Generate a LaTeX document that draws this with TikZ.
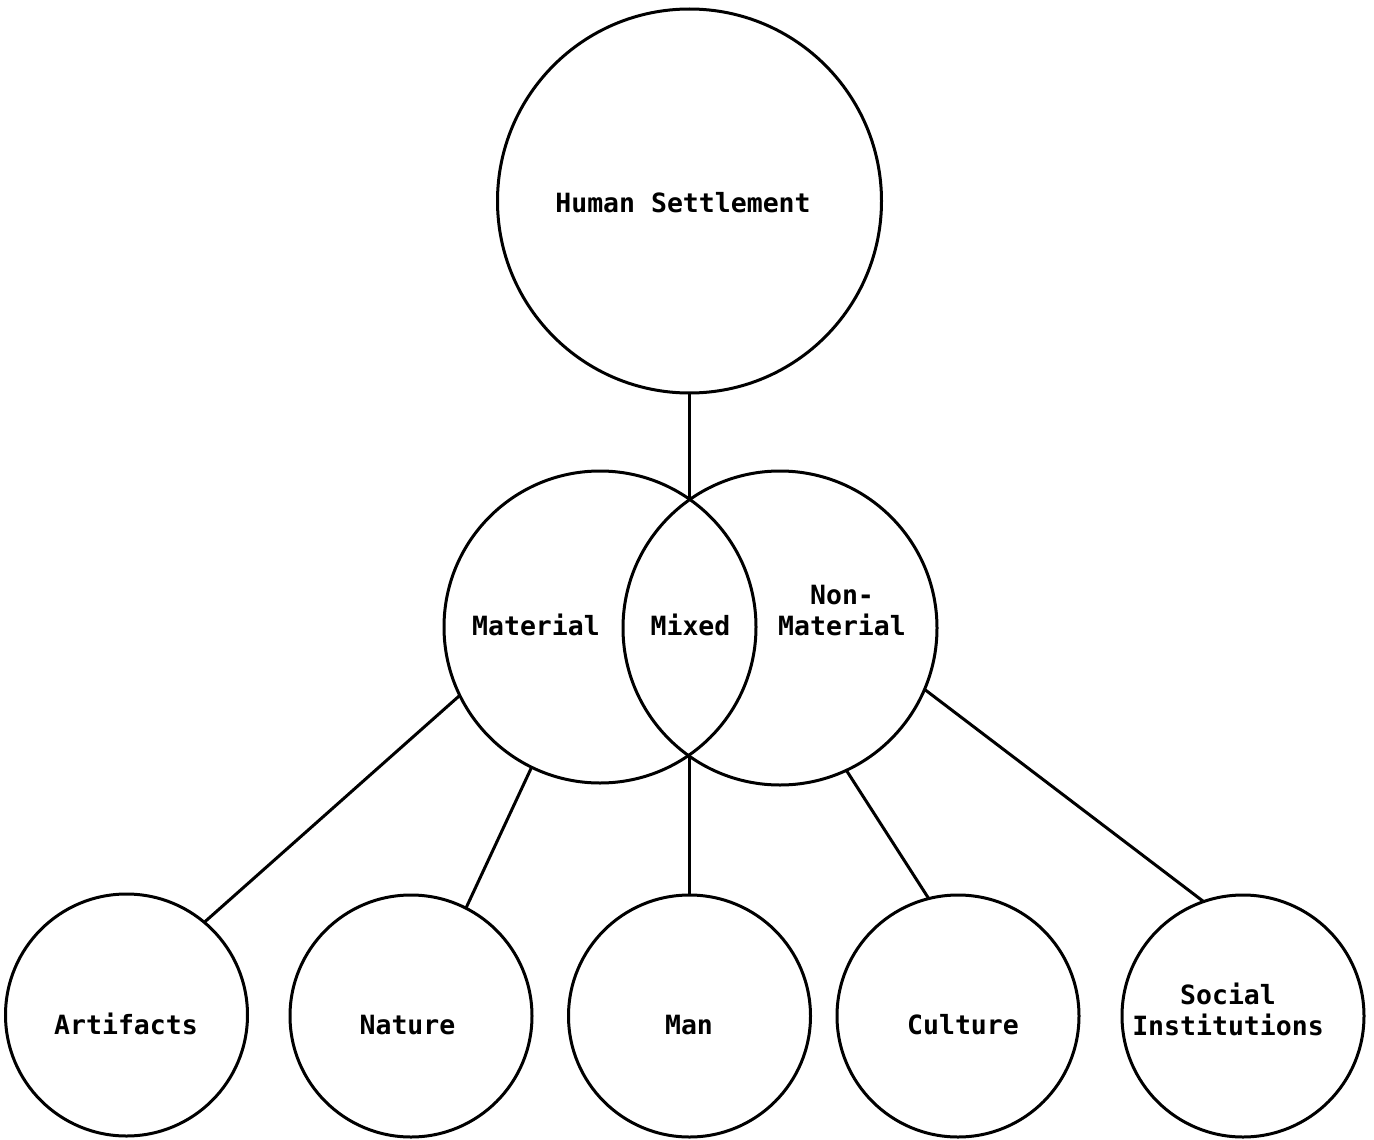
\documentclass[tikz,border=0pt]{standalone}
\usepackage{fontspec}
\setmainfont{DejaVu Sans Mono}
\begin{document}
\begin{tikzpicture}[x=1pt,y=-1pt,
  ring/.style={circle,draw,line width=3pt,inner sep=0pt,outer sep=0pt,minimum size=#1},
  lab/.style={anchor=base,inner sep=0pt,font=\fontsize{26.5}{31}\selectfont\bfseries},
  conn/.style={line width=3pt}]
\useasboundingbox (0,0) rectangle (1374,1140);
% circles
\node[ring=384pt] (hs) at (689.5,201) {};
\node[ring=312pt] (mat) at (600,627) {};
\node[ring=314pt] (nmat) at (780,628) {};
\node[ring=242pt] (art) at (126.5,1015) {};
\node[ring=242pt] (nat) at (411,1016) {};
\node[ring=242pt] (man) at (689.5,1016) {};
\node[ring=242pt] (cul) at (958,1016) {};
\node[ring=242pt] (soc) at (1243,1016) {};
\coordinate (topx) at (689.5,499);
\coordinate (botx) at (689.5,755);
% labels
\node[lab] (ths) at (683,212) {Human Settlement};
\node[lab] (tmat) at (536,635) {Material};
\node[lab] (tmix) at (690.5,635) {Mixed};
\node[lab] (tnon) at (842,604) {Non-};
\node[lab] (tnmat) at (842,635) {Material};
\node[lab] (tart) at (126,1034) {Artifacts};
\node[lab] (tnat) at (407.5,1034) {Nature};
\node[lab] (tman) at (689,1034) {Man};
\node[lab] (tcul) at (963,1034) {Culture};
\node[lab] (tsoc) at (1228,1004) {Social};
\node[lab] (tins) at (1228,1035) {Institutions};
% connectors
\draw[conn] (hs.south) -- (topx);
\draw[conn] (mat.206) -- (art.50.6);
\draw[conn] (mat.244) -- (nat.63.2);
\draw[conn] (botx) -- (man.north);
\draw[conn] (nmat.295.8) -- (cul.104.1);
\draw[conn] (nmat.337.2) -- (soc.109);
\end{tikzpicture}
\end{document}
